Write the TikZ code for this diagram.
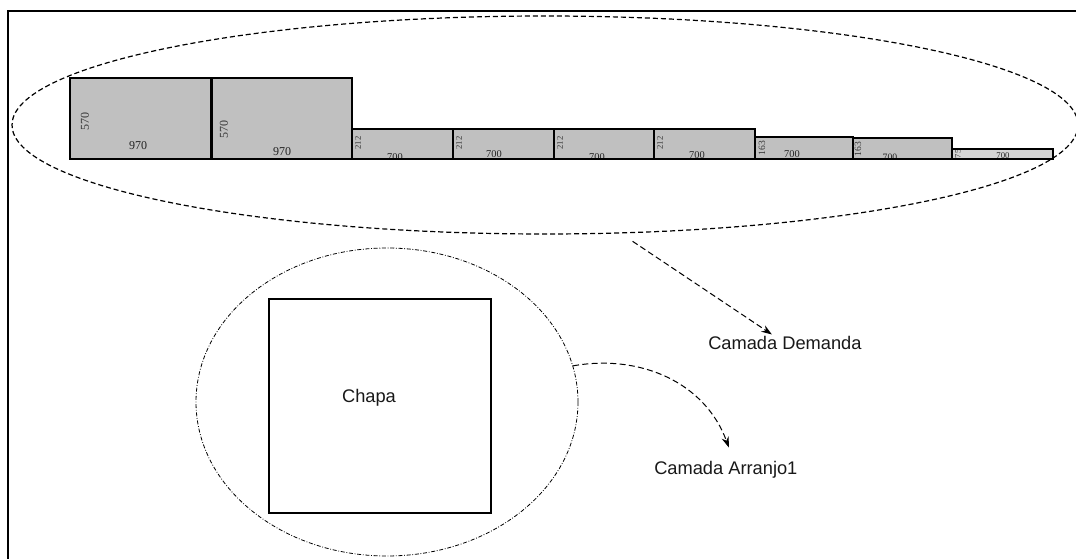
\documentclass[tikz,border=0pt]{standalone}
\usepackage{fontspec}
\setmainfont{Liberation Sans}
\newfontfamily\numfont{Liberation Serif}
\usetikzlibrary{shapes.geometric,arrows.meta,calc}

\definecolor{pieceA}{RGB}{192,192,192}
\definecolor{pieceB}{RGB}{212,212,212}
\definecolor{numdark}{RGB}{35,35,35}
\definecolor{numgray}{RGB}{55,55,55}

\begin{document}
\begin{tikzpicture}[x=0.75pt,y=-0.75pt,
  frameline/.style={line width=1.5pt},
  piece/.style={draw=black,line width=0.9pt},
  cloud/.style={draw=black,ellipse,inner sep=0pt,line width=0.9pt,
    dash pattern=on 3.8pt off 2.2pt},
  ring/.style={draw=black,ellipse,inner sep=0pt,line width=0.6pt,
    dash pattern=on 3pt off 1.3pt on 0.6pt off 1.3pt},
  sheet/.style={draw=black,line width=1.6pt},
  caption/.style={inner sep=0pt,font=\fontsize{13.7}{16}\selectfont,text=black!90},
  flow/.style={line width=0.75pt,dash pattern=on 4.5pt off 2.5pt,
    -{Stealth[length=8pt,width=5.5pt]}}]

\useasboundingbox (0,0) rectangle (1076,559);
\fill[white] (0,0) rectangle (1076,559);

% outer frame (top and left edges)
\draw[frameline] (8,559) -- (8,11) -- (1076,11);

% demand pieces: x1/x2/top/fill/height label/pos/size/width label/pos/size
\foreach \xa/\xb/\yt/\fc/\hl/\hx/\hy/\hs/\wl/\wx/\wy/\ws [count=\k] in {
   70/211/78/pieceA/570/85/122/9/970/138/146/9,
   212/352/78/pieceA/570/224/130/9/970/282/152/9,
   352/453/129/pieceA/212/358/143/6.5/700/395/157/7.8,
   453/554/129/pieceA/212/459/143/6.5/700/494/154/7.8,
   554/654/129/pieceA/212/560/143/6.5/700/597/157/7.8,
   654/755/129/pieceA/212/660/143/6.5/700/697/155/7.8,
   755/853/137/pieceA/163/762/148/7.2/700/792/154/7.8,
   853/952/138/pieceA/163/858/149/7.2/700/890/157/7.3,
   952/1053/149/pieceB/75/958/154/6.3/700/1003/156/6.6}
{
  \fill[\fc] (\xa,\yt) rectangle (\xb,159);
  \begin{scope}
    \clip (\xa,\yt) rectangle (\xb,159);
    \node[inner sep=0pt,rotate=90,text=numgray,
      font=\numfont\fontsize{\hs}{\hs}\selectfont] (h\k) at (\hx,\hy) {\hl};
    \node[inner sep=0pt,text=numdark,
      font=\numfont\fontsize{\ws}{\ws}\selectfont] (w\k) at (\wx,\wy) {\wl};
  \end{scope}
  \draw[piece] (\xa,\yt) rectangle (\xb,159);
}

% demand layer outline
\node[cloud,minimum width=799.5pt,minimum height=163.5pt] (demcloud) at (545,125) {};

% sheet layer outline and the sheet
\node[ring,minimum width=286.5pt,minimum height=231pt] (sheetring) at (387,402) {};
\draw[sheet] (269,299) rectangle (491,513);
\node[caption,anchor=base] (chapa) at (369,403) {Chapa};

% layer captions
\node[caption,anchor=base west] (dem) at (708,350) {Camada Demanda};
\node[caption,anchor=base west] (arr) at (654,475) {Camada Arranjo1};

% connectors
\draw[flow] ($(demcloud.-53)+(6,8)$) -- ($(dem.north)+(-13,-2)$);
\draw[flow] (sheetring.11) to[out=10,in=110] ($(arr.north)+(3,-14)$);

\end{tikzpicture}
\end{document}
